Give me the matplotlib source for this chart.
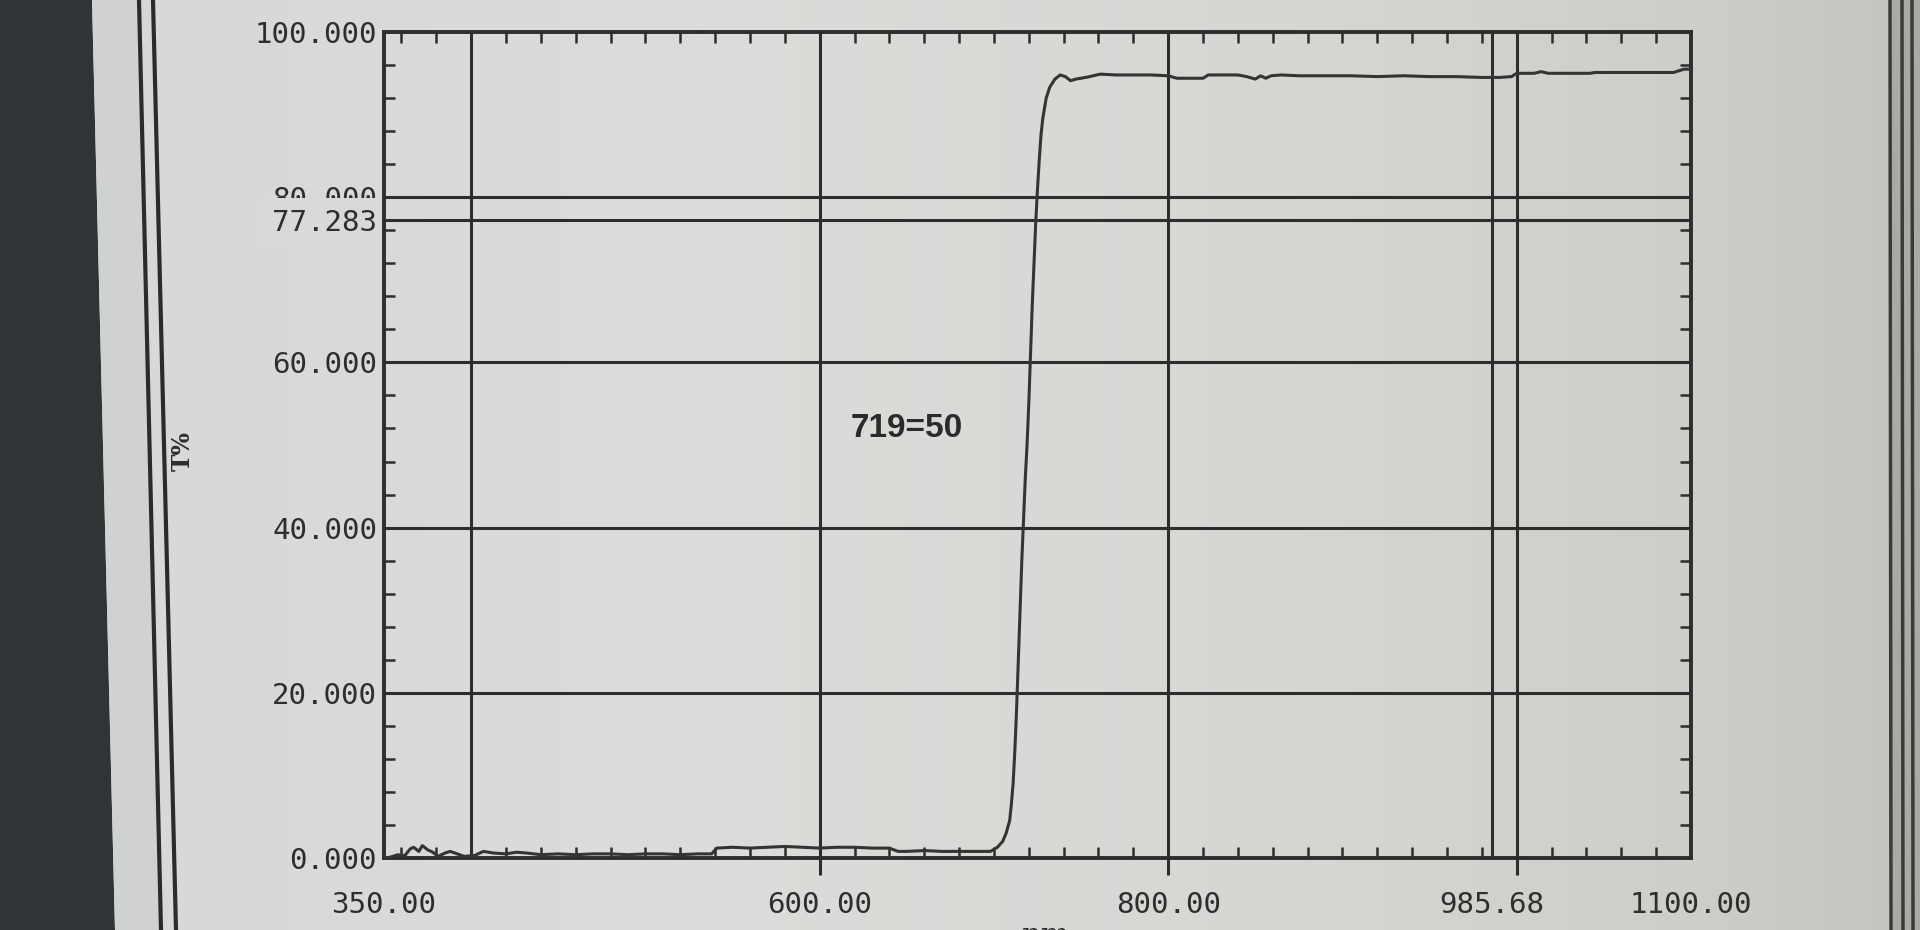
import numpy as np
import matplotlib
matplotlib.use("Agg")
import matplotlib.pyplot as plt
from matplotlib.patches import Polygon
from matplotlib.lines import Line2D
from matplotlib.ticker import FixedLocator, MultipleLocator

# ---------------- data ----------------
wavelength_nm = [350, 352, 355, 358, 360, 362, 365, 367, 370, 372,
                 375, 378, 381, 385, 388, 392, 396, 402, 407, 413,
                 420, 426, 432, 440, 450, 460, 470, 480, 490, 500,
                 510, 520, 530, 538, 541, 550, 560, 570, 580, 590,
                 600, 610, 620, 630, 640, 645, 650, 660, 670, 680,
                 690, 698, 702, 705, 707, 709, 710, 711, 712, 713,
                 714, 715, 716, 717, 718, 719, 720, 721, 722, 723,
                 724, 725, 726, 727, 728, 730, 732, 735, 738, 741,
                 744, 747, 750, 755, 761, 770, 780, 790, 800, 805,
                 812, 820, 823, 830, 840, 845, 850, 853, 856, 859,
                 865, 875, 890, 905, 920, 935, 950, 965, 980, 990,
                 997, 1000, 1010, 1014, 1018, 1030, 1042, 1045, 1060, 1075,
                 1090, 1093, 1096, 1100]
transmittance = [0.1, 0.0, 0.2, 0.4, 0.3, 0.3, 1.1, 1.3, 0.8, 1.5,
                 1.0, 0.7, 0.2, 0.6, 0.8, 0.5, 0.2, 0.3, 0.8, 0.6,
                 0.5, 0.7, 0.6, 0.4, 0.5, 0.4, 0.5, 0.5, 0.4, 0.5,
                 0.5, 0.4, 0.5, 0.5, 1.2, 1.3, 1.2, 1.3, 1.4, 1.3,
                 1.2, 1.3, 1.3, 1.2, 1.2, 0.8, 0.8, 0.9, 0.8, 0.8,
                 0.8, 0.8, 1.3, 2.0, 3.0, 4.5, 6.5, 9.0, 13.0, 18.0,
                 24.0, 30.0, 36.0, 41.0, 46.0, 50.0, 55.0, 61.0, 67.0, 72.0,
                 77.0, 81.0, 84.5, 87.5, 89.5, 92.0, 93.3, 94.3, 94.8, 94.6,
                 94.1, 94.3, 94.4, 94.6, 94.9, 94.8, 94.8, 94.8, 94.7, 94.4,
                 94.4, 94.4, 94.8, 94.8, 94.8, 94.6, 94.3, 94.7, 94.4, 94.7,
                 94.8, 94.7, 94.7, 94.7, 94.6, 94.7, 94.6, 94.6, 94.5, 94.5,
                 94.6, 95.0, 95.0, 95.2, 95.0, 95.0, 95.0, 95.1, 95.1, 95.1,
                 95.1, 95.3, 95.5, 95.5]

x_tick_values = [350, 600, 800, 985.68, 1100]
x_tick_labels = ["350.00", "600.00", "800.00", "985.68", "1100.00"]
y_tick_values = [0, 20, 40, 60, 80, 77.283, 100]
y_tick_labels = ["0.000", "20.000", "40.000", "60.000", "80.000", "77.283", "100.000"]
grid_x = [400, 600, 800, 1000]
grid_y = [20, 40, 60, 80]
marker_x = 985.68
marker_y = 77.283
annotation_text = "719=50"
annotation_xy = (650, 52)

# ---------------- styling ----------------
INK = "#2c2d2c"
W, H = 1920, 930
fig = plt.figure(figsize=(19.2, 9.3), dpi=100)

# background (photo of screen): soft horizontal shading
bg = fig.add_axes([0, 0, 1, 1])
bg.set_xlim(0, W)
bg.set_ylim(H, 0)
bg.axis("off")
stops_x = [0, 150, 700, 1300, 1700, 1890, 1920]
stops_c = np.array([[212, 215, 213], [214, 217, 214], [219, 221, 218],
                    [213, 215, 211], [204, 206, 201], [196, 198, 193],
                    [196, 198, 193]], dtype=float)
cols = np.arange(W)
grad = np.stack([np.interp(cols, stops_x, stops_c[:, k]) for k in range(3)], axis=-1) / 255.0
grad = np.repeat(grad[None, :, :], 8, axis=0)
bg.imshow(grad, extent=[0, W, H, 0], aspect="auto", zorder=0)
bg.add_patch(Polygon([(0, 0), (92, 0), (115, H), (0, H)], closed=True,
                     facecolor="#2f3436", edgecolor="none", zorder=1))
bg.add_patch(Polygon([(92, 0), (138, 0), (160, H), (115, H)], closed=True,
                     facecolor="#cfd2d1", edgecolor="none", zorder=1))
bg.add_line(Line2D([139, 161], [0, H], color="#2a2c2c", lw=3, zorder=2))
bg.add_line(Line2D([153, 176], [0, H], color="#2a2c2c", lw=3, zorder=2))
bg.add_patch(Polygon([(1890, 0), (W, 0), (W, H), (1892, H)], closed=True,
                     facecolor="#a9aaa5", edgecolor="none", zorder=1))
for xx in (1890, 1902, 1912):
    bg.add_line(Line2D([xx, xx + 1], [0, H], color="#3a3a38", lw=2.5, zorder=2))

# main chart axes
L, R, T, B = 384, 1691, 32, 858
ax = fig.add_axes([L / W, 1 - B / H, (R - L) / W, (B - T) / H])
ax.set_facecolor("none")
ax.set_xlim(350, 1100)
ax.set_ylim(0, 100)

for g in grid_x:
    ax.axvline(g, color=INK, lw=2.2, zorder=2)
for g in grid_y:
    ax.axhline(g, color=INK, lw=2.2, zorder=2)
ax.axvline(marker_x, color=INK, lw=2.2, zorder=2)
ax.axhline(marker_y, color=INK, lw=2.2, zorder=2)

ax.plot(wavelength_nm, transmittance, color="#333433", lw=2.2, zorder=3)

for s in ax.spines.values():
    s.set_color(INK)
    s.set_linewidth(2.8)

tick_font = dict(family="DejaVu Sans Mono", size=21, color="#2e2e2e")
ax.set_xticks(x_tick_values, x_tick_labels, **tick_font)
ax.set_yticks(y_tick_values, y_tick_labels, **tick_font)
ax.xaxis.set_minor_locator(FixedLocator(np.arange(360, 1100, 20)))
ax.yaxis.set_minor_locator(MultipleLocator(4))
ax.tick_params(axis="x", which="major", length=0, pad=24)
ax.tick_params(axis="y", which="major", length=0, pad=5)
ax.tick_params(which="minor", direction="in", length=8, width=1.8,
               color=INK, top=True, right=True, bottom=True, left=True)

# the 77.283 label sits over the lower half of the 80.000 label, as on the screen
for lab in ax.get_yticklabels():
    if lab.get_text() == "77.283":
        lab.set_bbox(dict(facecolor="#d7dad7", edgecolor="none", pad=8))

# outward ticks at the major grid positions on the bottom axis
sec = ax.secondary_xaxis("bottom")
sec.set_xticks([600, 800, 1000], ["", "", ""])
sec.tick_params(direction="out", length=12, width=2.2, color=INK)
sec.spines["bottom"].set_visible(False)

ax.set_ylabel("T%", family="DejaVu Serif", fontweight="bold", fontsize=17, color="#2e2e2e")
ax.yaxis.label.set_verticalalignment("center")
ax.yaxis.set_label_coords((183 - L) / (R - L), (B - 451) / (B - T))
ax.set_xlabel("nm", family="DejaVu Serif", fontsize=22, color="#2e2e2e")
ax.xaxis.set_label_coords((1046 - L) / (R - L), (B - 921) / (B - T))
ax.xaxis.label.set_va("top")

ax.text(annotation_xy[0], annotation_xy[1], annotation_text, ha="center", va="center",
        family="Liberation Sans", fontweight="bold", fontsize=24, color="#2b2b2b", zorder=4)

fig.savefig("out.png", dpi=100, facecolor="#d6d8d4")
